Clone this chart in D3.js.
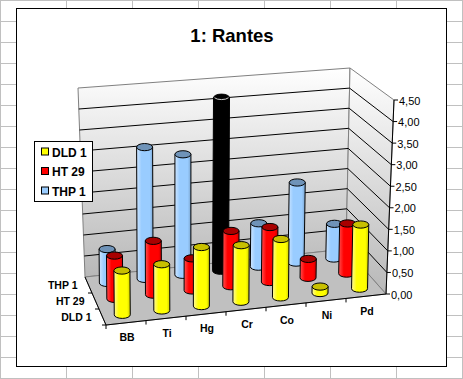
<!DOCTYPE html>
<html lang="en">
<head>
  <meta charset="UTF-8">
  <title>1: Rantes</title>
  <script src="https://d3js.org/d3.v7.min.js"></script>
  <style>
    html, body { margin: 0; padding: 0; background: #fff; overflow: hidden; }
    svg { display: block; font-family: "Liberation Sans", Arial, sans-serif; }
  </style>
</head>
<body>
<div id="chartID"></div>
<script>
var categories = ["BB", "Ti", "Hg", "Cr", "Co", "Ni", "Pd"];
var rows = ["DLD 1", "HT 29", "THP 1"];
var tickValues = [0, 0.5, 1, 1.5, 2, 2.5, 3, 3.5, 4, 4.5];
var tickLabels = ["0,00", "0,50", "1,00", "1,50", "2,00", "2,50", "3,00", "3,50", "4,00", "4,50"];
var dld1 = [1.0, 1.05, 1.35, 1.3, 1.35, 0.15, 1.5];
var ht29 = [1.0, 1.25, 0.75, 1.3, 1.3, 0.45, 1.2];
var thp1 = [0.8, 3.13, 2.88, 4.16, 1.05, 1.95, 0.85];
var seriesValues = [dld1, ht29, thp1];
var seriesColors = ["#ffff00", "#ff0000", "#99ccff"];
var capColors = ["#c8c000", "#a80000", "#6f93b8"];
var edgeColors = ["#fff8a0", "#ff5050", "#cfe6ff"];

var width = 463, height = 379;

var svg = d3.select("#chartID").append("svg")
  .attr("width", width)
  .attr("height", height);

var defs = svg.append("defs");

// the sheet behind the chart
var sheet = svg.append("g").attr("stroke", "#c0c0c0").attr("stroke-width", 1);
d3.range(0, 463, 66).forEach(function(x) {
  sheet.append("line").attr("x1", x + 0.5).attr("x2", x + 0.5).attr("y1", 0).attr("y2", height);
});
d3.range(0, 379, 21).forEach(function(y) {
  sheet.append("line").attr("x1", 0).attr("x2", width).attr("y1", y + 0.5).attr("y2", y + 0.5);
});
sheet.append("line").attr("x1", 462.5).attr("x2", 462.5).attr("y1", 0).attr("y2", height);

svg.append("rect")
  .attr("x", 16.5).attr("y", 8.5)
  .attr("width", 430).attr("height", 358)
  .attr("fill", "#fff").attr("stroke", "#000").attr("stroke-width", 1);

svg.append("text")
  .attr("x", 232).attr("y", 42)
  .attr("text-anchor", "middle")
  .attr("font-size", 18.5).attr("font-weight", "bold")
  .text("1: Rantes");

// box corners on screen, floor and top plane
var floor = { fl: [106, 325], fr: [386, 294], bl: [85, 277], br: [346, 249] };
var roof = { fl: [95, 123], fr: [394, 100], bl: [78, 88], br: [350, 68] };

var xBand = d3.scaleBand().domain(categories).range([0, 1]);
var rowBand = d3.scaleBand().domain(rows).range([0, 1]);
var yScale = d3.scaleLinear().domain([0, 4.5]).range([0, 1]);
// bars lean less than the walls do
var barLean = d3.scaleLinear().domain([0, 1]).range([-2, 4]);

function plane(p, u, v) {
  var mix = function(k) {
    var front = p.fl[k] + (p.fr[k] - p.fl[k]) * u;
    var back = p.bl[k] + (p.br[k] - p.bl[k]) * u;
    return front + (back - front) * v;
  };
  return [mix(0), mix(1)];
}

function project(u, v, value) {
  var a = plane(floor, u, v), b = plane(roof, u, v), t = yScale(value);
  return [a[0] + (b[0] - a[0]) * t, a[1] + (b[1] - a[1]) * t];
}

function poly(pts) { return "M" + pts.map(function(p) { return p.join(","); }).join("L") + "Z"; }

// wall gradients
var wallGrad = defs.append("linearGradient").attr("id", "wall")
  .attr("x1", 0).attr("x2", 0).attr("y1", 0).attr("y2", 1);
wallGrad.append("stop").attr("offset", "0%").attr("stop-color", "#ffffff");
wallGrad.append("stop").attr("offset", "100%").attr("stop-color", "#b8b8b8");

svg.append("path")
  .attr("d", poly([project(0, 1, 0), project(0, 1, 4.5), project(1, 1, 4.5), project(1, 1, 0)]))
  .attr("fill", "url(#wall)").attr("stroke", "#808080");
svg.append("path")
  .attr("d", poly([project(1, 1, 0), project(1, 1, 4.5), project(1, 0, 4.5), project(1, 0, 0)]))
  .attr("fill", "url(#wall)").attr("stroke", "#808080");
svg.append("path")
  .attr("d", poly([project(0, 0, 0), project(1, 0, 0), project(1, 1, 0), project(0, 1, 0)]))
  .attr("fill", "#c0c0c0").attr("stroke", "#808080");

// gridlines on both walls
var grid = svg.append("g").attr("fill", "none").attr("stroke", "#000").attr("stroke-width", 1);
tickValues.slice(1, -1).forEach(function(t) {
  grid.append("path").attr("d", d3.line()([project(0, 1, t), project(1, 1, t), project(1, 0, t)]));
});

// front edges and axes
var axes = svg.append("g").attr("stroke", "#000").attr("stroke-width", 1).attr("fill", "none");
axes.append("path").attr("d", d3.line()([project(0, 1, 0), project(0, 0, 0), project(1, 0, 0)]));
axes.append("path").attr("d", d3.line()([project(1, 0, 0), project(1, 0, 4.5)]));

tickValues.forEach(function(t, i) {
  var p = project(1, 0, t);
  axes.append("line").attr("x1", p[0]).attr("x2", p[0] + 4).attr("y1", p[1]).attr("y2", p[1]);
  svg.append("text")
    .attr("x", p[0] + 5).attr("y", p[1] + 4.5)
    .attr("font-size", 11).attr("fill", "#000")
    .text(tickLabels[i]);
});

categories.forEach(function(c, i) {
  var p = project(i / categories.length, 0, 0);
  axes.append("line").attr("x1", p[0]).attr("x2", p[0]).attr("y1", p[1]).attr("y2", p[1] + 4);
  var q = project(xBand(c) + xBand.bandwidth() / 2, 0, 0);
  svg.append("text")
    .attr("x", q[0] + 1).attr("y", q[1] + 18.5)
    .attr("text-anchor", "middle")
    .attr("font-size", 10.5).attr("font-weight", "bold")
    .text(c);
});

rows.forEach(function(r, i) {
  var p = project(0, i / rows.length, 0);
  axes.append("line").attr("x1", p[0]).attr("x2", p[0] - 4).attr("y1", p[1]).attr("y2", p[1]);
  var q = project(0, rowBand(r) + rowBand.bandwidth() / 2, 0);
  svg.append("text")
    .attr("x", q[0] - 11).attr("y", q[1] + 4)
    .attr("text-anchor", "end")
    .attr("font-size", 10.5).attr("font-weight", "bold")
    .text(r);
});

// cylinder gradients
seriesColors.forEach(function(col, s) {
  var g = defs.append("linearGradient").attr("id", "bar" + s);
  g.append("stop").attr("offset", "0%").attr("stop-color", edgeColors[s]);
  g.append("stop").attr("offset", "30%").attr("stop-color", col);
  g.append("stop").attr("offset", "80%").attr("stop-color", col);
  g.append("stop").attr("offset", "100%").attr("stop-color", d3.color(col).darker(0.6));
});

// back row first, left to right, so nearer bars cover farther ones
var rx = 8, ry = 3.6;
var bars = svg.append("g").attr("stroke", "#000").attr("stroke-width", 1);
d3.range(rows.length - 1, -1, -1).forEach(function(s) {
  var v = rowBand(rows[s]) + rowBand.bandwidth() / 2;
  categories.forEach(function(c, i) {
    var val = seriesValues[s][i];
    var u = xBand(c) + xBand.bandwidth() / 2;
    var b = project(u, v, 0), t = project(u, v, val);
    t[0] = b[0] + barLean(u) * yScale(val);
    var black = rows[s] === "THP 1" && c === "Cr";
    bars.append("path")
      .attr("d", "M" + (t[0] - rx) + "," + t[1] +
        "L" + (b[0] - rx) + "," + b[1] +
        "A" + rx + "," + ry + " 0 0 0 " + (b[0] + rx) + "," + b[1] +
        "L" + (t[0] + rx) + "," + t[1] + "Z")
      .attr("fill", black ? "#000" : "url(#bar" + s + ")");
    bars.append("ellipse")
      .attr("cx", t[0]).attr("cy", t[1]).attr("rx", rx).attr("ry", ry)
      .attr("fill", black ? "#000" : capColors[s]);
    if (black) {
      bars.append("path")
        .attr("d", "M" + (t[0] - rx + 1) + "," + t[1] + "A" + rx + "," + ry + " 0 0 0 " + (t[0] + rx - 1) + "," + t[1])
        .attr("fill", "none").attr("stroke", "#ccc");
    }
  });
});

// legend
var legend = svg.append("g");
legend.append("rect")
  .attr("x", 34.5).attr("y", 141.5).attr("width", 58).attr("height", 60)
  .attr("fill", "#fff").attr("stroke", "#000");
rows.forEach(function(r, i) {
  var y = 152 + i * 19.5;
  legend.append("rect")
    .attr("x", 41.5).attr("y", y - 4).attr("width", 7).attr("height", 7)
    .attr("fill", seriesColors[i]).attr("stroke", "#000");
  legend.append("text")
    .attr("x", 52).attr("y", y + 4.5)
    .attr("font-size", 12).attr("font-weight", "bold")
    .text(r);
});
</script>
</body>
</html>
